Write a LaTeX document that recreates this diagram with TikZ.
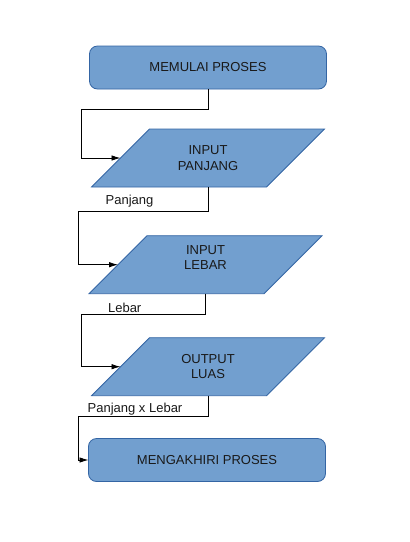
\documentclass[tikz,border=0pt]{standalone}
\usepackage{fontspec}
\setmainfont{Liberation Sans}
\usetikzlibrary{arrows.meta,backgrounds}
\definecolor{boxfill}{HTML}{729FCF}
\definecolor{boxline}{HTML}{3465A4}
\tikzset{
  terminal/.style={draw=boxline,fill=boxfill,rounded corners=8pt,line width=0.8pt,
    minimum width=237pt,minimum height=43pt,inner sep=0pt,outer sep=0pt,
    font=\fontsize{13}{15.5}\selectfont,text=black!90},
  iotext/.style={minimum width=175pt,minimum height=58pt,inner sep=0pt,outer sep=0pt,
    align=center,font=\fontsize{13}{15.5}\selectfont,text=black!90},
  iobox/.style={draw=boxline,fill=boxfill,line width=0.8pt},
  flow/.style={draw,line width=0.8pt,-{Latex[length=9pt,width=5.5pt]}},
  flowlabel/.style={font=\fontsize{13}{15.5}\selectfont,text=black!90,inner sep=0pt}
}
\begin{document}
\begin{tikzpicture}[x=1pt,y=-1pt]
	\useasboundingbox (0,0) rectangle (410,542);
	% steps
	\node[terminal] (start) at (208,67.5) {MEMULAI PROSES};
	\node[iotext] (panjang) at (208,158) {INPUT\\PANJANG};
	\node[iotext,text depth=14pt] (lebar) at (205.5,264.7) {INPUT\\LEBAR};
	\node[iotext] (luas) at (208,366.7) {OUTPUT\\LUAS};
	\node[terminal] (stop) at (207,460) {MENGAKHIRI PROSES};
	% parallelograms behind the text
	\begin{scope}[on background layer]
		\foreach \n in {panjang,lebar,luas}
			\draw[iobox] ([xshift=-29pt]\n.south west) -- ([xshift=29pt]\n.north west)
				-- ([xshift=29pt]\n.north east) -- ([xshift=-29pt]\n.south east) -- cycle;
	\end{scope}
	% connectors
	\draw[flow] (start.south) -- ++(0,20) -| (81,158) -- (panjang.west);
	\draw[flow] (panjang.south) -- ++(0,24) -| (78,264.7) -- (lebar.west);
	\draw[flow] (lebar.south) -- ++(0,21) -| (81.5,366.7) -- (luas.west);
	\draw[flow] (luas.south) -- ++(0,21) -| (78,460) -- (stop.west);
	% data labels
	\node[flowlabel] (lblpanjang) at (129.5,201) {Panjang};
	\node[flowlabel] (lbllebar) at (124.7,307.5) {Lebar};
	\node[flowlabel] (lblluas) at (135,409) {Panjang x Lebar};
\end{tikzpicture}
\end{document}
